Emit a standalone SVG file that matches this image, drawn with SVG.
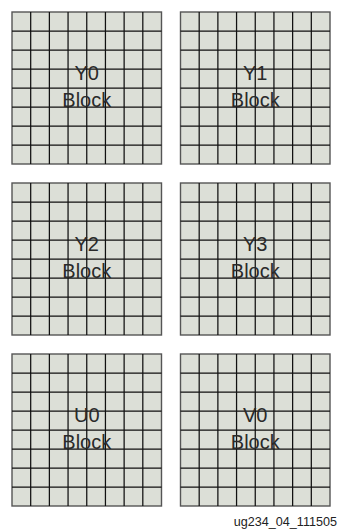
<svg xmlns="http://www.w3.org/2000/svg" xmlns:xlink="http://www.w3.org/1999/xlink" width="338" height="529" viewBox="0 0 338 529">
<style>
.lbl{font-family:"Liberation Sans",Arial,sans-serif;font-size:20px;fill:#2a2a2a;text-anchor:middle}
.fig{font-family:"Liberation Sans",Arial,sans-serif;font-size:12.6px;fill:#222;text-anchor:end}
.cell{fill:#dcdfd7;stroke:#555;stroke-width:1.4}
.gl{fill:none;stroke:#111;stroke-width:1.25}
</style>
<defs>
<g id="grid">
<rect class="cell" x="0" y="0" width="149.5" height="152"/>
<path class="gl" d="M18.69 0V152M37.38 0V152M56.06 0V152M74.75 0V152M93.44 0V152M112.13 0V152M130.81 0V152M0 19H149.5M0 38H149.5M0 57H149.5M0 76H149.5M0 95H149.5M0 114H149.5M0 133H149.5"/>
</g>
</defs>
<g id="connectors"/>
<g id="Y0">
<use xlink:href="#grid" x="12" y="12"/>
<text class="lbl" x="86.75" y="80">Y0</text>
<text class="lbl" x="86.75" y="106.7">Block</text>
</g>
<g id="Y1">
<use xlink:href="#grid" x="180.5" y="12"/>
<text class="lbl" x="255.25" y="80">Y1</text>
<text class="lbl" x="255.25" y="106.7">Block</text>
</g>
<g id="Y2">
<use xlink:href="#grid" x="12" y="183"/>
<text class="lbl" x="86.75" y="251">Y2</text>
<text class="lbl" x="86.75" y="277.7">Block</text>
</g>
<g id="Y3">
<use xlink:href="#grid" x="180.5" y="183"/>
<text class="lbl" x="255.25" y="251">Y3</text>
<text class="lbl" x="255.25" y="277.7">Block</text>
</g>
<g id="U0">
<use xlink:href="#grid" x="12" y="354"/>
<text class="lbl" x="86.75" y="422">U0</text>
<text class="lbl" x="86.75" y="448.7">Block</text>
</g>
<g id="V0">
<use xlink:href="#grid" x="180.5" y="354"/>
<text class="lbl" x="255.25" y="422">V0</text>
<text class="lbl" x="255.25" y="448.7">Block</text>
</g>
<text class="fig" x="337" y="525.5">ug234_04_111505</text>
</svg>
